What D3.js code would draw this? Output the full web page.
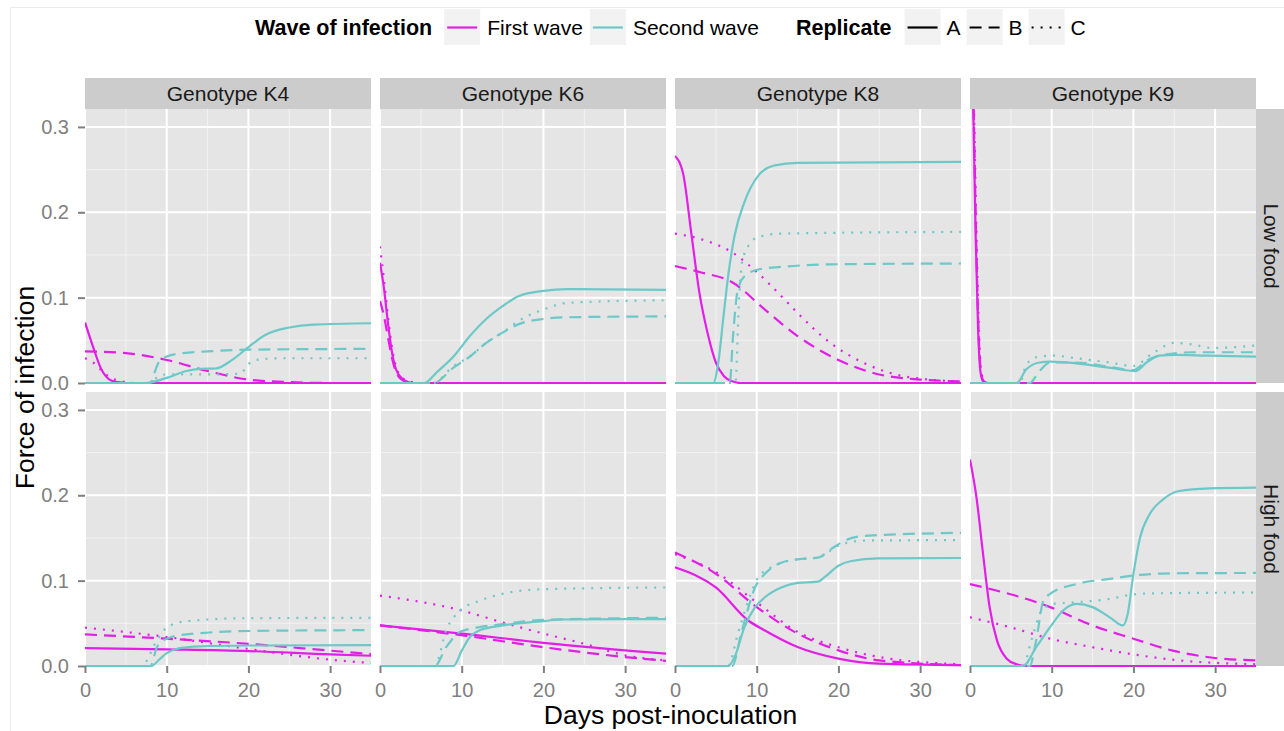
<!DOCTYPE html>
<html>
<head>
<meta charset="utf-8">
<script src="https://cdn.jsdelivr.net/npm/d3@7"></script>
<style>
  body { margin: 0; background: #fff; }
  svg { display: block; font-family: "Liberation Sans", Arial, Helvetica, sans-serif; }
</style>
</head>
<body>
<svg id="chart"></svg>
<script>
const genotypes = ['K4', 'K6', 'K8', 'K9'];
const foods = ['Low food', 'High food'];
const waves = ['First wave', 'Second wave'];
const replicates = ['A', 'B', 'C'];
const xTicks = [0, 10, 20, 30];
const yTicks = [0, 0.1, 0.2, 0.3];

// Each panel: first wave A, B, C then second wave A, B, C. Points are [day, force of infection].
const lowK4 = [
  [[0,.071],[1,.042],[2,.016],[3,.004],[4,.001],[5,0],[35,0]],
  [[0,.037],[5,.035],[10,.027],[15,.014],[20,.004],[25,.001],[30,0],[35,0]],
  [[0,.029],[1,.024],[2,.015],[3,.007],[4,.003],[5,.001],[6,0],[35,0]],
  [[0,0],[7.3,0],[10,.006],[12.4,.014],[14,.0165],[16,.017],[18,.027],[20,.042],[22,.056],[25,.065],[28,.0685],[35,.070]],
  [[0,0],[8,0],[8.5,.012],[9,.024],[10,.031],[12,.035],[15,.037],[20,.039],[35,.040]],
  [[0,0],[8,0],[9,.008],[10,.01],[15,.01],[19,.011],[20,.022],[21,.027],[24,.029],[35,.029]]
];
const lowK6 = [
  [[0,.141],[0.5,.11],[1,.068],[1.5,.034],[2,.015],[3,.003],[4,0],[35,0]],
  [[0,.096],[0.5,.078],[1,.052],[1.5,.028],[2,.012],[3,.002],[4,0],[35,0]],
  [[0,.16],[0.5,.12],[1,.075],[1.5,.04],[2,.018],[3,.004],[4,.001],[5,0],[35,0]],
  [[0,0],[5.4,0],[7,.013],[9,.031],[11,.055],[13,.075],[15,.09],[17,.102],[20,.108],[23,.11],[35,.109]],
  [[0,0],[6.5,0],[9,.018],[11,.031],[13,.047],[15,.059],[17,.069],[20,.075],[23,.077],[35,.078]],
  [[0,0],[6.5,0],[9,.02],[11,.031],[13,.047],[15,.059],[17,.073],[20,.086],[23,.094],[35,.097]]
];
const lowK8 = [
  [[0,.266],[1,.245],[2,.175],[3,.105],[4,.058],[5,.024],[6,.008],[7,.002],[8,0],[35,0]],
  [[0,.137],[3,.13],[7,.118],[11,.086],[15,.055],[20,.027],[25,.01],[30,.004],[35,.002]],
  [[0,.175],[3,.169],[7,.153],[10,.13],[13,.102],[15,.082],[19,.047],[23,.024],[27,.01],[31,.004],[35,.002]],
  [[0,0],[4.7,0],[5.3,.024],[5.9,.075],[6.5,.125],[7.3,.173],[8.5,.212],[10.2,.243],[12.2,.255],[15,.258],[35,.259]],
  [[0,0],[6.7,0],[7.1,.055],[7.7,.11],[8.5,.125],[10.2,.133],[13,.136],[19,.139],[35,.14]],
  [[0,0],[7.4,0],[7.8,.09],[8.2,.141],[9,.161],[10.2,.171],[13,.175],[35,.177]]
];
const lowK9 = [
  [[0,.55],[0.4,.32],[0.7,.17],[1,.06],[1.3,.012],[1.6,.002],[2,0],[35,0]],
  [[0,.5],[0.45,.32],[0.75,.17],[1.05,.06],[1.35,.012],[1.7,.002],[2.1,0],[35,0]],
  [[0,.6],[0.5,.32],[0.8,.17],[1.1,.06],[1.4,.012],[1.8,.002],[2.2,0],[35,0]],
  [[0,0],[5.7,0],[6.9,.016],[8.5,.024],[9.8,.025],[13,.023],[17,.018],[20.3,.014],[21.6,.024],[23.2,.032],[25.2,.033],[29.3,.032],[35,.031]],
  [[0,0],[7.3,0],[8.5,.014],[9.8,.024],[13,.024],[17,.019],[20,.015],[21.6,.026],[23.6,.033],[27.3,.036],[35,.036]],
  [[0,0],[6.1,0],[6.9,.022],[8.5,.031],[10.2,.032],[13,.029],[17,.024],[20,.02],[22.4,.035],[25,.047],[27.3,.045],[29.7,.041],[35,.044]]
];
const highK4 = [
  [[0,.021],[10,.0195],[20,.0175],[30,.0136],[35,.012]],
  [[0,.037],[10,.032],[20,.026],[30,.018],[35,.014]],
  [[0,.045],[10,.034],[20,.02],[30,.0074],[35,.0035]],
  [[0,0],[8.1,0],[9.2,.0086],[10,.015],[11.6,.021],[14,.023],[20,.024],[35,.0245]],
  [[0,0],[8,0],[8.8,.022],[10,.032],[12.4,.037],[20,.041],[35,.042]],
  [[0,0],[6.9,0],[8.8,.03],[10,.045],[12.4,.0525],[20,.056],[35,.0565]]
];
const highK6 = [
  [[0,.0475],[10,.038],[20,.027],[35,.0144]],
  [[0,.0475],[10,.036],[20,.022],[30,.0105],[35,.006]],
  [[0,.0825],[10,.065],[15,.051],[20,.038],[25,.026],[30,.0125],[35,.0066]],
  [[0,0],[9,0],[10,.018],[11,.034],[12.2,.042],[15,.0475],[20,.0525],[22,.0545],[35,.055]],
  [[0,0],[6.7,0],[8.1,.022],[9.8,.04],[12.2,.0455],[15,.049],[20,.054],[35,.0565]],
  [[0,0],[6.7,0],[8.1,.042],[9.8,.065],[12.2,.0765],[15,.0845],[20,.09],[35,.092]]
];
const highK8 = [
  [[0,.1156],[5,.092],[9,.053],[11,.0416],[15,.0222],[20,.0086],[25,.0027],[35,.001]],
  [[0,.133],[5,.108],[10,.069],[15,.038],[20,.0183],[25,.0066],[35,.001]],
  [[0,.131],[5,.11],[10.2,.073],[15,.04],[20,.022],[25,.0105],[35,.002]],
  [[0,0],[6.5,0],[7.3,.0105],[8.5,.0455],[9.8,.069],[11,.0805],[13,.092],[15,.0973],[17.5,.0988],[18.3,.104],[20,.1175],[21.6,.123],[24.8,.126],[35,.1265]],
  [[0,0],[7,0],[8.1,.038],[9.8,.092],[11,.108],[13,.121],[15,.125],[17.5,.127],[19.1,.137],[20.8,.147],[23.2,.1525],[35,.156]],
  [[0,0],[6.5,0],[7.7,.038],[9,.077],[10.2,.104],[12.2,.1175],[15,.125],[17.5,.127],[20,.141],[23.2,.147],[35,.1475]]
];
const highK9 = [
  [[0,.242],[0.8,.197],[1.6,.131],[2.4,.069],[3.3,.03],[4.5,.0086],[5.7,.002],[6.9,0],[35,0]],
  [[0,.096],[9.8,.069],[15,.0475],[20,.032],[24.8,.018],[29.7,.0097],[35,.0066]],
  [[0,.057],[4.9,.0455],[9.8,.032],[15,.022],[20,.0136],[24.8,.0074],[35,.002]],
  [[0,0],[6.5,0],[8.1,.022],[9.8,.0455],[11.4,.065],[13,.0728],[15,.069],[17.1,.057],[18.7,.0475],[19.3,.061],[20,.108],[20.8,.15],[22,.178],[23.6,.195],[25.6,.205],[29.3,.208],[35,.209]],
  [[0,0],[7.3,0],[8.1,.03],[9,.077],[9.8,.0844],[13,.096],[17.1,.102],[20,.106],[24.8,.1086],[35,.109]],
  [[0,0],[6.5,0],[7.5,.03],[8.8,.065],[10.2,.0728],[13,.0747],[17.1,.0786],[19.1,.0825],[21.6,.085],[35,.086]]
];

const panelData = {
  'Low food': { K4: lowK4, K6: lowK6, K8: lowK8, K9: lowK9 },
  'High food': { K4: highK4, K6: highK6, K8: highK8, K9: highK9 }
};

const WAVE_COLORS = { 'First wave': '#e31ee6', 'Second wave': '#6dc8c8' };
const DASHES = { A: null, B: '12,7', C: '2,7' };

const width = 1284, height = 731;
const svg = d3.select('#chart').attr('width', width).attr('height', height);

// faint outer plot border
svg.append('rect')
  .attr('x', 10.5).attr('y', 7.5).attr('width', 1300).attr('height', 760)
  .attr('fill', 'none').attr('stroke', '#ebebeb');

const col = d3.scaleBand().domain(genotypes).range([85, 1256]).paddingInner(9 / 295);
const row = d3.scaleBand().domain(foods).range([109, 666]).paddingInner(9 / 283);

const x = d3.scaleLinear().domain([0, 35]).range([0, col.bandwidth()]);
const y = d3.scaleLinear().domain([0, 0.321]).range([row.bandwidth(), 0]);

const line = d3.line()
  .x(d => x(d[0]))
  .y(d => y(d[1]))
  .curve(d3.curveMonotoneX);

const minorX = [5, 15, 25];
const minorY = [0.05, 0.15, 0.25];

foods.forEach((food, ri) => {
  genotypes.forEach((gt, ci) => {
    const g = svg.append('g')
      .attr('transform', `translate(${col(gt)},${row(food)})`);

    g.append('rect')
      .attr('width', col.bandwidth()).attr('height', row.bandwidth())
      .attr('fill', '#e5e5e5');

    // minor grid
    g.selectAll('.minor-x').data(minorX).join('line')
      .attr('x1', d => x(d)).attr('x2', d => x(d))
      .attr('y1', 0).attr('y2', row.bandwidth())
      .attr('stroke', '#f2f2f2').attr('stroke-width', 1);
    g.selectAll('.minor-y').data(minorY).join('line')
      .attr('y1', d => y(d)).attr('y2', d => y(d))
      .attr('x1', 0).attr('x2', col.bandwidth())
      .attr('stroke', '#f2f2f2').attr('stroke-width', 1);

    // major grid
    g.selectAll('.major-x').data(xTicks).join('line')
      .attr('x1', d => x(d)).attr('x2', d => x(d))
      .attr('y1', 0).attr('y2', row.bandwidth())
      .attr('stroke', '#fff').attr('stroke-width', 2);
    g.selectAll('.major-y').data(yTicks).join('line')
      .attr('y1', d => y(d)).attr('y2', d => y(d))
      .attr('x1', 0).attr('x2', col.bandwidth())
      .attr('stroke', '#fff').attr('stroke-width', 2);

    const clipId = `clip-${ri}-${ci}`;
    g.append('clipPath').attr('id', clipId)
      .append('rect')
      .attr('x', 0).attr('y', -1)
      .attr('width', col.bandwidth()).attr('height', row.bandwidth() + 2);

    const series = panelData[food][gt].map((pts, i) => ({
      wave: waves[Math.floor(i / 3)],
      rep: replicates[i % 3],
      pts
    }));

    g.append('g').attr('clip-path', `url(#${clipId})`)
      .selectAll('path').data(series).join('path')
      .attr('d', d => line(d.pts))
      .attr('fill', 'none')
      .attr('stroke', d => WAVE_COLORS[d.wave])
      .attr('stroke-width', 2.2)
      .attr('stroke-dasharray', d => DASHES[d.rep]);

    // y axis on left column
    if (ci === 0) {
      const ax = g.append('g')
        .call(d3.axisLeft(y).tickValues(yTicks).tickFormat(d3.format('.1f')).tickSize(7).tickPadding(9));
      ax.select('.domain').remove();
      ax.selectAll('line').attr('stroke', '#7f7f7f').attr('stroke-width', 2);
      ax.selectAll('text').attr('fill', '#7f7f7f').attr('font-size', 20)
        .attr('font-family', '"Liberation Sans", Arial, sans-serif');
    }
    // x axis on bottom row
    if (ri === foods.length - 1) {
      const ax = g.append('g')
        .attr('transform', `translate(0,${row.bandwidth()})`)
        .call(d3.axisBottom(x).tickValues(xTicks).tickSize(7).tickPadding(10));
      ax.select('.domain').remove();
      ax.selectAll('line').attr('stroke', '#7f7f7f').attr('stroke-width', 2);
      ax.selectAll('text').attr('fill', '#7f7f7f').attr('font-size', 20)
        .attr('font-family', '"Liberation Sans", Arial, sans-serif');
    }
  });
});

// top strips
genotypes.forEach(gt => {
  svg.append('rect')
    .attr('x', col(gt)).attr('y', 78)
    .attr('width', col.bandwidth()).attr('height', 31)
    .attr('fill', '#cccccc');
  svg.append('text')
    .attr('x', col(gt) + col.bandwidth() / 2).attr('y', 93.5)
    .attr('dy', '0.35em')
    .attr('text-anchor', 'middle')
    .attr('font-size', 21).attr('fill', '#1a1a1a')
    .text(`Genotype ${gt}`);
});

// right strips
foods.forEach(food => {
  svg.append('rect')
    .attr('x', 1256).attr('y', row(food))
    .attr('width', 31).attr('height', row.bandwidth())
    .attr('fill', '#cccccc');
  const cx = 1256 + 15.5, cy = row(food) + row.bandwidth() / 2;
  svg.append('text')
    .attr('transform', `translate(${cx},${cy}) rotate(90)`)
    .attr('dy', '0.35em')
    .attr('text-anchor', 'middle')
    .attr('font-size', 21).attr('fill', '#1a1a1a')
    .text(food);
});

// axis titles
svg.append('text')
  .attr('x', (85 + 1256) / 2).attr('y', 724)
  .attr('text-anchor', 'middle')
  .attr('font-size', 26.5).attr('fill', '#000')
  .text('Days post-inoculation');

svg.append('text')
  .attr('transform', `translate(34,${(109 + 666) / 2}) rotate(-90)`)
  .attr('text-anchor', 'middle')
  .attr('font-size', 26.5).attr('fill', '#000')
  .text('Force of infection');

// legend
const legend = svg.append('g');
const keyTop = 9, keySize = 36, legendMid = 27.5;
let cursor = 255;

function addText(txt, bold) {
  const t = legend.append('text')
    .attr('x', cursor).attr('y', legendMid).attr('dy', '0.35em')
    .attr('font-size', bold ? 21.5 : 21).attr('fill', '#000')
    .attr('font-weight', bold ? 'bold' : 'normal')
    .text(txt);
  cursor += t.node().getComputedTextLength();
}
function addKey(color, dash) {
  legend.append('rect')
    .attr('x', cursor).attr('y', keyTop)
    .attr('width', keySize).attr('height', keySize)
    .attr('fill', '#f2f2f2');
  legend.append('line')
    .attr('x1', cursor + 3).attr('x2', cursor + keySize - 3)
    .attr('y1', legendMid).attr('y2', legendMid)
    .attr('stroke', color).attr('stroke-width', 2.2)
    .attr('stroke-dasharray', dash);
  cursor += keySize;
}

addText('Wave of infection', true);
cursor += 12;
waves.forEach(w => {
  addKey(WAVE_COLORS[w], null);
  cursor += 7;
  addText(w, false);
  cursor += 7;
});
cursor += 30;
addText('Replicate', true);
cursor += 13;
replicates.forEach(r => {
  addKey('#000', DASHES[r]);
  cursor += 6;
  addText(r, false);
  cursor += 6;
});
</script>
</body>
</html>
